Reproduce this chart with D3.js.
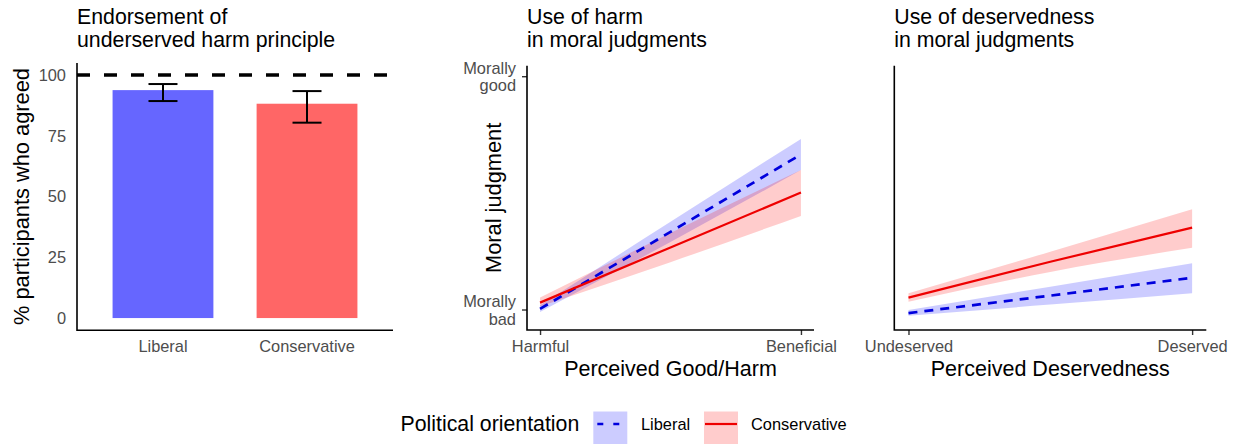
<!DOCTYPE html>
<html>
<head>
<meta charset="utf-8">
<script src="https://cdn.jsdelivr.net/npm/d3@7"></script>
<style>
  html, body { margin: 0; padding: 0; background: #fff; }
  svg { display: block; font-family: "Liberation Sans", Arial, sans-serif; }
</style>
</head>
<body>
<svg id="chart" width="1239" height="444"></svg>
<script>
// ---- Panel 1: share of participants endorsing the principle ----
const groups = ["Liberal", "Conservative"];
const agreePct = [93.8, 88.2];
const agreeLow = [89.3, 80.4];
const agreeHigh = [96.3, 93.4];
const pctTicks = [0, 25, 50, 75, 100];
const fullAgreement = 100;

// ---- Panels 2 & 3: fitted moral judgment (1 = morally bad, 7 = morally good) ----
const fitX = [0, 0.5, 1];
const harmLibFit  = [1.03, 3.01, 5.00];
const harmLibLow  = [0.95, 2.75, 4.60];
const harmLibHigh = [1.12, 3.27, 5.40];
const harmConFit  = [1.19, 2.61, 4.02];
const harmConLow  = [1.09, 2.23, 3.42];
const harmConHigh = [1.32, 2.98, 4.60];

const desLibFit  = [0.92, 1.37, 1.83];
const desLibLow  = [0.85, 1.14, 1.43];
const desLibHigh = [1.00, 1.60, 2.20];
const desConFit  = [1.32, 2.24, 3.12];
const desConLow  = [1.21, 1.98, 2.60];
const desConHigh = [1.43, 2.50, 3.59];

const judgmentTicks = [1, 7];
const judgmentLabels = [["Morally", "bad"], ["Morally", "good"]];
const harmTickLabels = ["Harmful", "Beneficial"];
const desTickLabels = ["Undeserved", "Deserved"];

const colors = {
  Liberal:      { bar: "#6666FF", line: "#0000DD", ribbon: "#0000FF" },
  Conservative: { bar: "#FF6666", line: "#EE0000", ribbon: "#FF0000" }
};

const svg = d3.select("#chart");
const tickGrey = "#4D4D4D";
const tickSize = 16.4;

function addTitle(x, lines) {
  const t = svg.append("text").attr("x", x).attr("y", 24)
    .attr("font-size", 21.3).attr("fill", "#000");
  lines.forEach((ln, i) => t.append("tspan").attr("x", x).attr("dy", i === 0 ? 0 : 23).text(ln));
}

// ================= Panel 1 =================
{
  const left = 77, right = 393, top = 62.9, bottom = 330.2;
  const x = d3.scaleBand().domain(groups).range([left, right]).paddingInner(0.3).paddingOuter(0.247);
  const y = d3.scaleLinear().domain([-5, 105]).range([bottom, top]);
  const g = svg.append("g");

  g.selectAll("rect.bar").data(groups).join("rect")
    .attr("class", "bar")
    .attr("x", d => x(d)).attr("width", x.bandwidth())
    .attr("y", (d, i) => y(agreePct[i])).attr("height", (d, i) => y(0) - y(agreePct[i]))
    .attr("fill", d => colors[d].bar);

  // error bars
  const eb = g.selectAll("g.err").data(groups).join("g").attr("class", "err")
    .attr("stroke", "#000").attr("stroke-width", 2).attr("fill", "none");
  const cap = 14.5;
  eb.append("line").attr("x1", d => x(d) + x.bandwidth() / 2).attr("x2", d => x(d) + x.bandwidth() / 2)
    .attr("y1", (d, i) => y(agreeLow[i])).attr("y2", (d, i) => y(agreeHigh[i]));
  eb.append("line").attr("x1", d => x(d) + x.bandwidth() / 2 - cap).attr("x2", d => x(d) + x.bandwidth() / 2 + cap)
    .attr("y1", (d, i) => y(agreeLow[i])).attr("y2", (d, i) => y(agreeLow[i]));
  eb.append("line").attr("x1", d => x(d) + x.bandwidth() / 2 - cap).attr("x2", d => x(d) + x.bandwidth() / 2 + cap)
    .attr("y1", (d, i) => y(agreeHigh[i])).attr("y2", (d, i) => y(agreeHigh[i]));

  // reference line at 100%
  g.append("line").attr("x1", left).attr("x2", right)
    .attr("y1", y(fullAgreement)).attr("y2", y(fullAgreement))
    .attr("stroke", "#000").attr("stroke-width", 3.4).attr("stroke-dasharray", "13,14");

  // axes
  const yAxis = d3.axisLeft(y).tickValues(pctTicks).tickSize(0).tickPadding(11);
  const ya = g.append("g").attr("transform", `translate(${left},0)`).call(yAxis);
  ya.select(".domain").remove();
  ya.selectAll("text").attr("font-size", tickSize).attr("fill", tickGrey).attr("font-family", null);

  const xAxis = d3.axisBottom(x).tickSize(0).tickPadding(10);
  const xa = g.append("g").attr("transform", `translate(0,${bottom})`).call(xAxis);
  xa.select(".domain").remove();
  xa.selectAll("text").attr("font-size", tickSize).attr("fill", tickGrey).attr("font-family", null);

  g.append("path").attr("d", `M${left},${top}V${bottom}H${right}`)
    .attr("fill", "none").attr("stroke", "#000").attr("stroke-width", 1.6);

  g.append("text").attr("transform", `translate(28.5,${(top + bottom) / 2}) rotate(-90)`)
    .attr("text-anchor", "middle").attr("font-size", 21.8).text("% participants who agreed");

  addTitle(77, ["Endorsement of", "underserved harm principle"]);
}

// ================= Panels 2 & 3 =================
const yJ = d3.scaleLinear().domain([0.486, 7.283]).range([330, 65.7]);

function fitPanel(opts) {
  const { left, right, series, tickLabels, xTitle, title, showY } = opts;
  const top = 65.7, bottom = 330;
  const x = d3.scaleLinear().domain([-0.05, 1.05]).range([left, right]);
  const g = svg.append("g");

  const area = d3.area().curve(d3.curveMonotoneX)
    .x((d, i) => x(fitX[i])).y0(d => yJ(d[0])).y1(d => yJ(d[1]));
  const line = d3.line().x((d, i) => x(fitX[i])).y(d => yJ(d));

  series.forEach(s => {
    g.append("path").datum(s.low.map((v, i) => [v, s.high[i]]))
      .attr("d", area).attr("fill", colors[s.name].ribbon).attr("fill-opacity", 0.2);
  });
  series.forEach(s => {
    g.append("path").datum(s.fit).attr("d", line).attr("fill", "none")
      .attr("stroke", colors[s.name].line)
      .attr("stroke-width", s.name === "Liberal" ? 2.7 : 2.2)
      .attr("stroke-dasharray", s.name === "Liberal" ? "9,7" : null);
  });

  // x axis ticks and labels
  const xAxis = d3.axisBottom(x).tickValues([0, 1]).tickSize(5).tickPadding(5)
    .tickFormat((d, i) => tickLabels[i]);
  const xa = g.append("g").attr("transform", `translate(0,${bottom})`).call(xAxis);
  xa.select(".domain").remove();
  xa.selectAll("line").attr("stroke", "#333").attr("stroke-width", 1.4);
  xa.selectAll("text").attr("font-size", tickSize).attr("fill", tickGrey).attr("font-family", null);

  if (showY) {
    const ya = g.append("g");
    judgmentTicks.forEach((v, i) => {
      ya.append("line").attr("x1", left - 5).attr("x2", left).attr("y1", yJ(v)).attr("y2", yJ(v))
        .attr("stroke", "#333").attr("stroke-width", 1.4);
      const t = ya.append("text").attr("text-anchor", "end").attr("font-size", tickSize).attr("fill", tickGrey);
      t.append("tspan").attr("x", left - 11).attr("y", yJ(v) - 3).text(judgmentLabels[i][0]);
      t.append("tspan").attr("x", left - 11).attr("y", yJ(v) + 14.5).text(judgmentLabels[i][1]);
    });
    g.append("text").attr("transform", `translate(501,${(top + bottom) / 2}) rotate(-90)`)
      .attr("text-anchor", "middle").attr("font-size", 21.8).text("Moral judgment");
  }

  g.append("path").attr("d", `M${left},${top}V${bottom}H${right}`)
    .attr("fill", "none").attr("stroke", "#000").attr("stroke-width", 1.6);

  g.append("text").attr("x", (left + right) / 2).attr("y", 376)
    .attr("text-anchor", "middle").attr("font-size", 21.5).text(xTitle);

  addTitle(left, title);
}

fitPanel({
  left: 527, right: 814, showY: true,
  tickLabels: harmTickLabels, xTitle: "Perceived Good/Harm",
  title: ["Use of harm", "in moral judgments"],
  series: [
    { name: "Liberal", fit: harmLibFit, low: harmLibLow, high: harmLibHigh },
    { name: "Conservative", fit: harmConFit, low: harmConLow, high: harmConHigh }
  ]
});

fitPanel({
  left: 894.3, right: 1206.3, showY: false,
  tickLabels: desTickLabels, xTitle: "Perceived Deservedness",
  title: ["Use of deservedness", "in moral judgments"],
  series: [
    { name: "Liberal", fit: desLibFit, low: desLibLow, high: desLibHigh },
    { name: "Conservative", fit: desConFit, low: desConLow, high: desConHigh }
  ]
});

// ================= Legend =================
{
  const g = svg.append("g");
  g.append("text").attr("x", 400.5).attr("y", 430.5).attr("font-size", 21.3).text("Political orientation");
  const keys = [
    { name: "Liberal", x: 593.3, labelX: 641 },
    { name: "Conservative", x: 704, labelX: 751 }
  ];
  keys.forEach(k => {
    g.append("rect").attr("x", k.x).attr("y", 411.5).attr("width", 34).attr("height", 34)
      .attr("fill", colors[k.name].ribbon).attr("fill-opacity", 0.2);
    if (k.name === "Liberal") {
      g.append("line").attr("x1", k.x + 4).attr("x2", k.x + 26).attr("y1", 424).attr("y2", 424)
        .attr("stroke", colors[k.name].line).attr("stroke-width", 2.7).attr("stroke-dasharray", "6,10");
    } else {
      g.append("line").attr("x1", k.x + 1).attr("x2", k.x + 33).attr("y1", 424).attr("y2", 424)
        .attr("stroke", colors[k.name].line).attr("stroke-width", 2.2);
    }
    g.append("text").attr("x", k.labelX).attr("y", 429.5).attr("font-size", tickSize).text(k.name);
  });
}
</script>
</body>
</html>
